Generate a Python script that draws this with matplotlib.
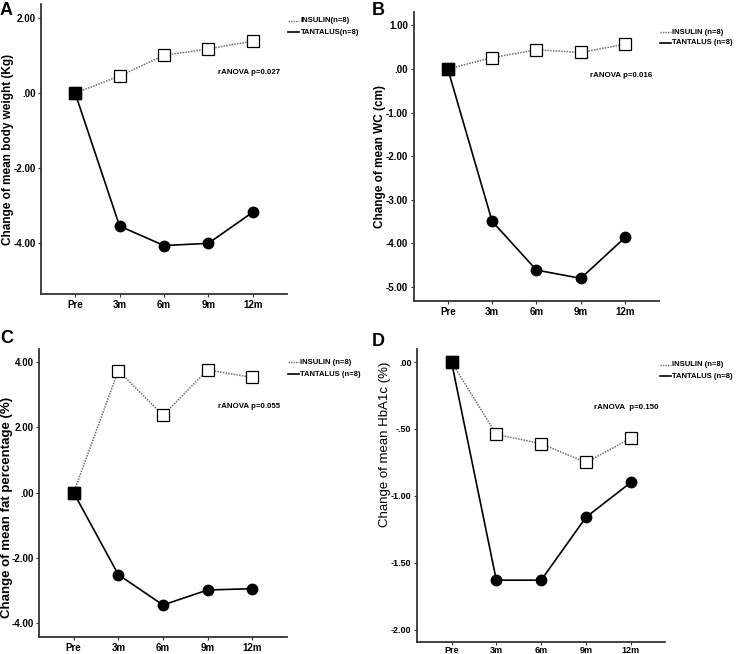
import matplotlib
matplotlib.use("Agg")
import matplotlib.pyplot as plt
from matplotlib.lines import Line2D

plt.rcParams['font.family'] = ['Liberation Sans', 'DejaVu Sans']

months = ['Pre', '3m', '6m', '9m', '12m']

# panel A: body weight (Kg)
insulin_a = [0.00, 0.46, 1.01, 1.18, 1.39]
tantalus_a = [0.00, -3.54, -4.06, -4.00, -3.17]
# panel B: waist circumference (cm)
insulin_b = [0.00, 0.26, 0.44, 0.38, 0.57]
tantalus_b = [0.00, -3.50, -4.62, -4.81, -3.87]
# panel C: fat percentage (%)
insulin_c = [0.00, 3.74, 2.37, 3.76, 3.53]
tantalus_c = [0.00, -2.51, -3.44, -2.98, -2.94]
# panel D: HbA1c (%)
insulin_d = [0.00, -0.54, -0.61, -0.75, -0.57]
tantalus_d = [0.00, -1.63, -1.63, -1.16, -0.90]

yticks_a = [2.0, 0.0, -2.0, -4.0]
yticks_b = [1.0, 0.0, -1.0, -2.0, -3.0, -4.0, -5.0]
yticks_c = [4.0, 2.0, 0.0, -2.0, -4.0]
yticks_d = [0.0, -0.5, -1.0, -1.5, -2.0]


def fmt(v, nd=2):
    # SPSS style: no leading zero
    s = f"{v:.{nd}f}"
    if s.startswith('0.') or s.startswith('-0.'):
        s = s.replace('0.', '.', 1)
    return s


panels = [
    dict(letter='A', rect=[0.0551, 0.5505, 0.3306, 0.4435], ins=insulin_a, tan=tantalus_a,
         yt=yticks_a, ylim=(-5.35, 2.38), ylabel='Change of mean body weight (Kg)',
         leg=('INSULIN(n=8)', 'TANTALUS(n=8)'), leg_y=(21, 32), anova='rANOVA p=0.027',
         anova_y=72, letter_y=2, bold_label=True, lab_x=8, lab_y=0.5, lab_fs=8.5,
         tick_fs=7, xpad=2),
    dict(letter='B', rect=[0.5560, 0.5398, 0.3301, 0.4419], ins=insulin_b, tan=tantalus_b,
         yt=yticks_b, ylim=(-5.33, 1.31), ylabel='Change of mean WC (cm)',
         leg=('INSULIN (n=8)', 'TANTALUS (n=8)'), leg_y=(32, 43), anova='rANOVA p=0.016',
         anova_y=75.7, letter_y=2, bold_label=True, lab_x=380, lab_y=0.5, lab_fs=8.5,
         tick_fs=7, xpad=2),
    dict(letter='C', rect=[0.0528, 0.0255, 0.3325, 0.4413], ins=insulin_c, tan=tantalus_c,
         yt=yticks_c, ylim=(-4.43, 4.41), ylabel='Change of mean fat percentage (%)',
         leg=('INSULIN (n=8)', 'TANTALUS (n=8)'), leg_y=(35, 47.3), anova='rANOVA p=0.055',
         anova_y=80, letter_y=3, bold_label=True, lab_x=7, lab_y=0.45, lab_fs=9.5,
         tick_fs=7, xpad=1.5),
    dict(letter='D', rect=[0.5605, 0.0188, 0.3337, 0.4480], ins=insulin_d, tan=tantalus_d,
         yt=yticks_d, ylim=(-2.09, 0.10), ylabel='Change of mean HbA1c (%)',
         leg=('INSULIN (n=8)', 'TANTALUS (n=8)'), leg_y=(38, 49), anova='rANOVA  p=0.150',
         anova_y=80.3, letter_y=6, bold_label=False, lab_x=385, lab_y=0.673, lab_fs=9.5,
         tick_fs=6.5, xpad=0.5),
]

W, H = 744, 654
fig = plt.figure(figsize=(W / 100, H / 100), dpi=100)

for i, p in enumerate(panels):
    ax = fig.add_axes(p['rect'])
    x = list(range(len(months)))
    ax.plot(x, p['ins'], color='#707070', ls=(0, (1, 0.8)), lw=1.1, marker='s',
            ms=8.5, mfc='white', mec='black', mew=0.9, zorder=3)
    ax.plot(x, p['tan'], color='black', ls='-', lw=1.2, marker='o',
            ms=7.5, mfc='black', mec='black', zorder=4)
    # baseline point drawn as a filled square
    ax.plot(x[0], p['ins'][0], marker='s', ms=8.5, mfc='black', mec='black', zorder=5)

    ax.set_xlim(-0.77, 4.77)
    ax.set_ylim(*p['ylim'])
    ax.set_xticks(x)
    ax.set_xticklabels(months, fontsize=p['tick_fs'], fontweight='bold')
    ax.set_yticks(p['yt'])
    ax.set_yticklabels([fmt(v) for v in p['yt']], fontsize=p['tick_fs'], fontweight='bold')
    ax.tick_params(length=2.5, width=0.8, color='#333333', pad=1.5)
    ax.tick_params(axis='x', pad=p['xpad'])
    for s in ('top', 'right'):
        ax.spines[s].set_visible(False)
    for s in ('left', 'bottom'):
        ax.spines[s].set_linewidth(1.3)
        ax.spines[s].set_color('#333333')

    ox = 0 if i % 2 == 0 else 372
    oy = 0 if i < 2 else 327

    # y label placed in figure pixels like the reference
    ax.set_ylabel(p['ylabel'], fontsize=p['lab_fs'],
                  fontweight='bold' if p['bold_label'] else 'normal')
    left_px = p['rect'][0] * W
    ax.yaxis.set_label_coords((p['lab_x'] - left_px) / (p['rect'][2] * W), p['lab_y'])
    ax.yaxis.label.set_va('center')

    fig.text((ox + 0) / W, 1 - (oy + p['letter_y']) / H, p['letter'], fontsize=13,
             fontweight='bold', ha='left', va='top')

    ax_right = (p['rect'][0] + p['rect'][2]) * W
    fig.text((ax_right - 7) / W, 1 - (oy + p['anova_y']) / H, p['anova'], fontsize=5.7,
             fontweight='bold', ha='right', va='center')

    lx = ox + 288
    for k, (lbl, ly) in enumerate(zip(p['leg'], p['leg_y'])):
        yy = 1 - (oy + ly) / H
        if k == 0:
            ln = Line2D([lx / W, (lx + 11) / W], [yy, yy], transform=fig.transFigure,
                        color='#707070', ls=(0, (1, 0.8)), lw=1.0)
        else:
            ln = Line2D([lx / W, (lx + 11) / W], [yy, yy], transform=fig.transFigure,
                        color='black', ls='-', lw=1.2)
        fig.add_artist(ln)
        fig.text((lx + 12.5) / W, yy, lbl, fontsize=5.5, fontweight='bold',
                 ha='left', va='center')

fig.savefig('out.png', dpi=100)
